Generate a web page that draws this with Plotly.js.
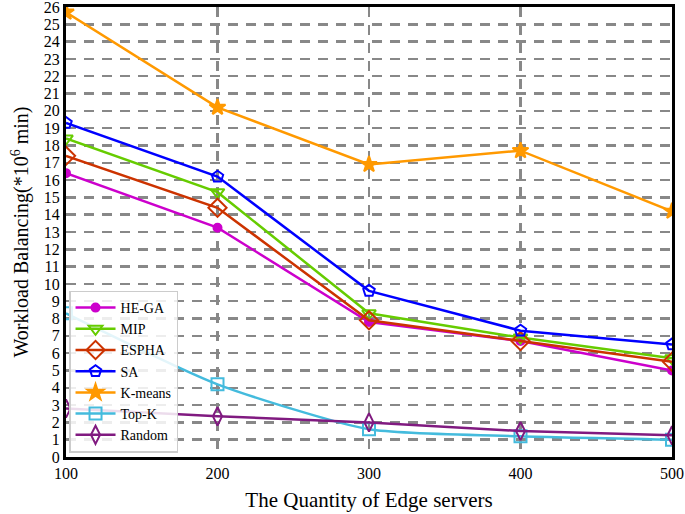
<!DOCTYPE html>
<html><head><meta charset="utf-8">
<script src="https://cdn.plot.ly/plotly-3.0.1.min.js"></script>
<style>body{margin:0;padding:0;background:#fff}#c{width:685px;height:514px}</style>
</head><body><div id="c"></div>
<script>
var servers = [100, 200, 300, 400, 500];
var heGA   = [16.4, 13.25, 7.8, 6.7, 5.0];
var mip    = [18.4, 15.3, 8.3, 6.9, 5.7];
var espha  = [17.4, 14.4, 7.9, 6.7, 5.5];
var sa     = [19.3, 16.2, 9.6, 7.3, 6.5];
var kmeans = [25.7, 20.2, 16.9, 17.7, 14.2];
var topK   = [8.3, 4.2, 1.6, 1.2, 1.0];
var random = [2.8, 2.35, 2.0, 1.5, 1.25];
var yTicks = [0,1,2,3,4,5,6,7,8,9,10,11,12,13,14,15,16,17,18,19,20,21,22,23,24,25,26];

function tr(name, y, color, symbol, size, shape) {
  return {x: servers, y: y, name: name, type: 'scatter', mode: 'lines+markers',
    line: {color: color, width: 2.5, shape: shape || 'linear', smoothing: 0.6},
    marker: {symbol: symbol, size: size, color: color, line: {color: color, width: 2}}};
}
var data = [
  tr('HE-GA', heGA, '#CC00CC', 'circle', 8),
  tr('MIP', mip, '#66CC00', 'triangle-down-open', 12),
  tr('ESPHA', espha, '#CC3300', 'diamond-open', 14),
  tr('SA', sa, '#0000FF', 'pentagon-open', 12),
  tr('K-means', kmeans, '#FF9900', 'star', 12),
  tr('Top-K', topK, '#44BBDD', 'square-open', 12, 'spline'),
  tr('Random', random, '#801A80', 'diamond-tall-open', 13)
];
var ff = 'Liberation Serif';
var layout = {
  width: 685, height: 514,
  margin: {l: 66, r: 13, t: 7, b: 57},
  paper_bgcolor: '#fff', plot_bgcolor: '#fff',
  font: {family: ff, color: '#000'},
  showlegend: true,
  legend: {x: 0.005, y: 0.01, xanchor: 'left', yanchor: 'bottom',
    bgcolor: 'rgba(255,255,255,0.85)', bordercolor: '#cccccc', borderwidth: 1.5,
    font: {family: ff, size: 14, color: '#000'}, tracegroupgap: 0, itemwidth: 40},
  xaxis: {range: [100, 500], tickvals: servers, ticks: '', showline: true, mirror: true,
    linecolor: '#000', linewidth: 3, showgrid: true, gridcolor: '#888', gridwidth: 2.5,
    griddash: '10px,8px', zeroline: false, ticklabeloverflow: 'allow',
    tickfont: {family: ff, size: 16, color: '#000'},
    title: {text: 'The Quantity of Edge servers', font: {family: ff, size: 21, color: '#000'}, standoff: 12}},
  yaxis: {range: [0, 26], tickvals: yTicks, ticks: '', showline: true, mirror: true,
    linecolor: '#000', linewidth: 3, showgrid: true, gridcolor: '#888', gridwidth: 2.5,
    griddash: '10px,8px', zeroline: false, ticklabeloverflow: 'allow',
    tickfont: {family: ff, size: 16, color: '#000'},
    title: {text: 'Workload Balancing(*10<sup>6</sup> min)', font: {family: ff, size: 20, color: '#000'}, standoff: 10}}
};
Plotly.newPlot('c', data, layout, {staticPlot: true, displayModeBar: false});
</script></body></html>
